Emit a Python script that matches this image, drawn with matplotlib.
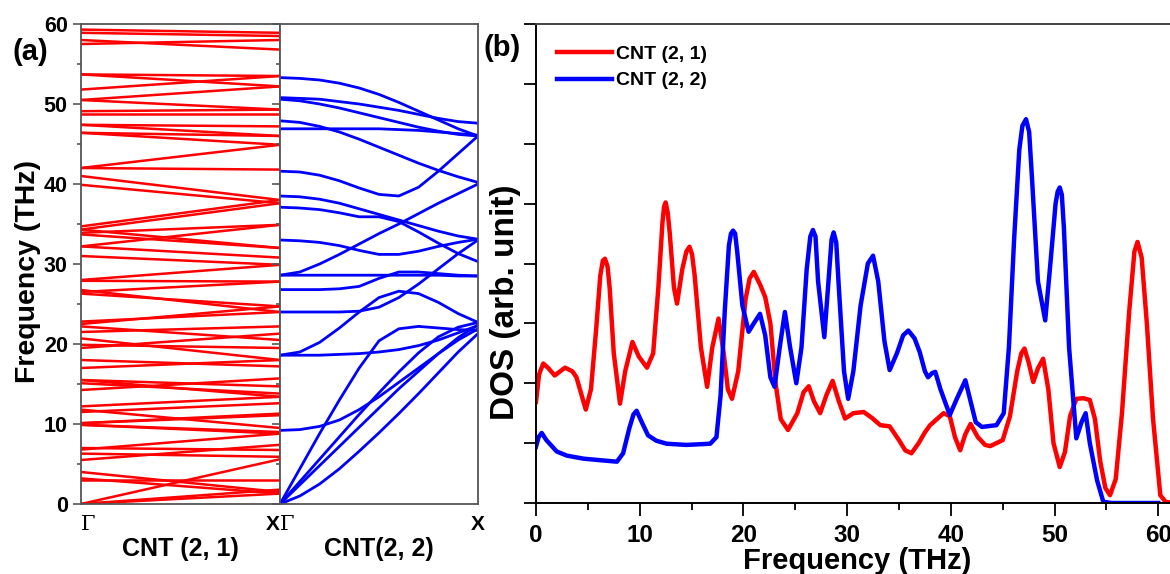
import matplotlib
matplotlib.use("Agg")
import matplotlib.pyplot as plt
from matplotlib.ticker import MultipleLocator

plt.rcParams["font.family"] = ["Liberation Sans", "DejaVu Sans"]
plt.rcParams["font.weight"] = "bold"

# ---- (a) phonon bands, CNT (2,1): frequency at Gamma and at X for each band
red_gamma = [0.0, 0.0, 0.0, 4.0, 3.0, 3.2, 5.5, 6.3, 7.0, 6.8,
             9.9, 9.9, 10.1, 10.1, 11.8, 12.2, 11.5,
             14.25, 15.1, 15.5, 15.5, 17.0, 18.0,
             19.5, 19.9, 20.7, 21.5, 22.2, 22.8, 22.5,
             26.3, 26.75, 26.5, 28.0, 27.9,
             31.0, 32.2, 32.2, 33.7, 34.3, 34.7, 34.3, 33.9,
             39.9, 41.0, 42.0, 42.0, 46.4, 46.4, 47.4, 47.4, 48.7, 49.1, 50.5, 50.5,
             51.8, 53.7, 53.7, 57.5, 58.0, 58.9, 59.3]
red_x = [1.3, 1.8, 5.6, 1.5, 3.0, 1.3, 7.4, 5.9, 6.75, 8.8,
         8.8, 9.0, 11.3, 11.1, 9.5, 13.4, 12.6,
         15.7, 13.8, 14.7, 13.4, 18.0, 17.2,
         21.3, 19.5, 18.0, 22.2, 20.5, 24.0, 24.7,
         24.7, 24.0, 27.8, 29.9, 27.8,
         29.9, 30.8, 34.9, 32.0, 32.0, 38.0, 37.6, 34.9,
         37.6, 38.0, 41.8, 44.9, 44.9, 46.0, 47.2, 46.0, 48.7, 49.3, 49.3, 52.2,
         53.5, 53.5, 52.2, 58.0, 56.8, 58.5, 58.9]

# ---- (a) phonon bands, CNT (2,2): frequency along Gamma -> X
blue_k = [0.0, 0.1, 0.2, 0.3, 0.4, 0.5, 0.6, 0.7, 0.8, 0.9, 1.0]
blue_bands = [
    [53.3, 53.2, 53.0, 52.6, 52.0, 51.2, 50.2, 49.1, 48.0, 46.9, 46.0],
    [50.8, 50.7, 50.6, 50.3, 50.0, 49.6, 49.2, 48.7, 48.2, 47.8, 47.6],
    [50.6, 50.4, 50.0, 49.5, 48.9, 48.3, 47.7, 47.1, 46.6, 46.2, 46.0],
    [47.9, 47.7, 47.2, 46.5, 45.6, 44.6, 43.6, 42.6, 41.7, 40.9, 40.2],
    [46.9, 46.9, 46.9, 46.9, 46.9, 46.9, 46.8, 46.7, 46.5, 46.3, 46.1],
    [41.6, 41.5, 41.1, 40.4, 39.5, 38.7, 38.5, 39.6, 41.6, 43.8, 46.0],
    [38.5, 38.4, 38.1, 37.6, 36.9, 36.2, 35.5, 34.8, 34.1, 33.5, 33.1],
    [37.1, 37.0, 36.8, 36.4, 35.9, 35.9, 35.3, 34.0, 32.6, 31.3, 30.3],
    [33.0, 32.9, 32.7, 32.3, 31.7, 31.2, 31.2, 31.6, 32.2, 32.7, 33.1],
    [28.6, 29.0, 30.0, 31.2, 32.5, 33.8, 35.0, 36.3, 37.6, 38.8, 40.0],
    [28.6, 28.6, 28.6, 28.6, 28.6, 28.6, 28.6, 28.6, 28.6, 28.5, 28.5],
    [26.8, 26.8, 26.8, 26.9, 27.2, 28.2, 29.0, 29.0, 28.8, 28.6, 28.5],
    [24.0, 24.0, 24.0, 24.0, 24.1, 24.6, 25.8, 27.5, 29.4, 31.3, 33.0],
    [18.6, 19.0, 20.2, 22.0, 24.0, 25.8, 26.6, 26.3, 25.2, 23.8, 22.7],
    [18.6, 18.6, 18.6, 18.7, 18.8, 19.0, 19.3, 19.8, 20.5, 21.4, 22.3],
    [9.2, 9.3, 9.7, 10.5, 11.8, 13.4, 15.2, 17.0, 18.8, 20.5, 21.9],
    [0.0, 4.4, 8.8, 13.0, 17.0, 20.4, 21.9, 22.2, 22.0, 21.8, 21.7],
    [0.0, 2.8, 5.6, 8.4, 11.2, 13.9, 16.5, 18.9, 20.9, 22.1, 22.7],
    [0.0, 2.4, 4.8, 7.2, 9.6, 12.0, 14.4, 16.6, 18.8, 20.8, 22.4],
    [0.0, 1.0, 2.5, 4.4, 6.6, 8.9, 11.3, 13.8, 16.4, 19.0, 21.3],
]

# ---- (b) phonon DOS
red_f = [0.0, 0.3, 0.7, 1.2, 1.8, 2.8, 3.5, 3.9, 4.4, 4.8, 5.3, 5.8, 6.2, 6.45, 6.65, 6.9,
         7.1, 7.5, 8.1, 8.6, 9.3, 9.9, 10.7, 11.3, 11.8, 12.2, 12.35, 12.5, 12.7, 12.9,
         13.3, 13.6, 14.1, 14.5, 14.8, 15.05, 15.3, 15.9, 16.5, 17.0, 17.6, 18.1, 18.5,
         18.9, 19.5, 20.2, 20.6, 21.0, 21.6, 22.1, 22.6, 23.1, 23.6, 24.3, 25.2, 25.8,
         26.3, 26.8, 27.4, 28.0, 28.6, 29.2, 29.8, 30.6, 31.6, 32.4, 33.2, 34.1, 35.0,
         35.6, 36.2, 36.9, 37.5, 38.0, 39.3, 39.9, 40.4, 40.9, 41.4, 41.9, 42.6, 43.3,
         43.8, 45.0, 45.7, 46.4, 46.8, 47.1, 47.5, 47.95, 48.4, 48.9, 49.4, 49.9, 50.5,
         51.0, 51.5, 52.1, 52.8, 53.4, 53.9, 54.4, 54.9, 55.35, 55.9, 56.5, 57.2, 57.7,
         58.0, 58.4, 58.9, 59.5, 60.2, 60.7, 61.5]
red_dos = [1.69, 2.15, 2.33, 2.25, 2.13, 2.26, 2.2, 2.1, 1.8, 1.56, 1.9, 2.9, 3.8, 4.05,
           4.08, 3.95, 3.6, 2.5, 1.66, 2.2, 2.69, 2.45, 2.26, 2.5, 3.6, 4.7, 4.95, 5.02,
           4.85, 4.5, 3.6, 3.33, 3.9, 4.2, 4.28, 4.15, 3.8, 2.6, 1.94, 2.6, 3.08, 2.5,
           1.9, 1.74, 2.2, 3.4, 3.75, 3.86, 3.65, 3.44, 3.0, 2.0, 1.4, 1.22, 1.5, 1.85,
           1.95, 1.7, 1.5, 1.8, 2.04, 1.7, 1.41, 1.5, 1.52, 1.42, 1.3, 1.28, 1.05, 0.88,
           0.83, 1.0, 1.18, 1.3, 1.5, 1.45, 1.1, 0.88, 1.15, 1.32, 1.1, 0.97, 0.95, 1.05,
           1.45, 2.2, 2.5, 2.58, 2.35, 2.02, 2.25, 2.41, 1.9, 1.0, 0.6, 0.85, 1.45, 1.74,
           1.75, 1.72, 1.4, 0.7, 0.25, 0.13, 0.4, 1.5, 3.2, 4.2, 4.36, 4.1, 3.0, 1.4,
           0.13, 0.02, 0.0]
blue_f = [0.0, 0.25, 0.55, 1.0, 2.0, 3.0, 4.6, 6.5, 7.8, 8.4, 9.0, 9.4, 9.7, 10.2, 10.8,
          11.6, 12.6, 14.5, 16.8, 17.4, 17.8, 18.2, 18.6, 18.8, 19.0, 19.2, 19.4, 19.9,
          20.5, 21.0, 21.6, 22.1, 22.6, 23.0, 23.5, 24.0, 24.5, 25.1, 25.6, 26.1, 26.45,
          26.7, 26.95, 27.2, 27.8, 28.2, 28.5, 28.7, 28.95, 29.2, 29.7, 30.1, 30.6, 31.3,
          32.0, 32.5, 33.0, 33.6, 34.1, 34.8, 35.4, 35.9, 36.5, 37.0, 37.5, 37.8, 38.2,
          38.5, 39.0, 39.9, 40.6, 41.4, 41.9, 42.4, 43.0, 44.4, 45.1, 45.6, 46.1, 46.6,
          46.9, 47.25, 47.55, 47.8, 48.4, 49.1, 49.6, 50.1, 50.3, 50.5, 50.7, 50.9, 51.4,
          52.1, 52.6, 53.0, 53.4, 54.1, 54.7, 55.5, 60.0]
blue_dos = [0.94, 1.1, 1.17, 1.05, 0.86, 0.79, 0.74, 0.71, 0.69, 0.83, 1.25, 1.48, 1.54,
            1.35, 1.13, 1.04, 0.99, 0.97, 0.99, 1.1, 1.8, 3.2, 4.3, 4.5, 4.55, 4.5, 4.2,
            3.3, 2.86, 3.0, 3.16, 2.8, 2.1, 1.94, 2.6, 3.19, 2.6, 2.0, 2.6, 3.9, 4.45,
            4.56, 4.45, 3.7, 2.77, 3.7, 4.4, 4.52, 4.35, 3.6, 2.2, 1.74, 2.2, 3.3, 4.0,
            4.13, 3.7, 2.7, 2.22, 2.5, 2.8, 2.88, 2.75, 2.52, 2.2, 2.1, 2.17, 2.19, 1.9,
            1.47, 1.75, 2.05, 1.7, 1.35, 1.27, 1.3, 1.5, 2.6, 4.4, 5.9, 6.3, 6.41, 6.2,
            5.5, 3.7, 3.05, 4.0, 5.0, 5.2, 5.27, 5.15, 4.6, 2.6, 1.08, 1.35, 1.5, 1.0,
            0.38, 0.02, 0.0, 0.0]

W, H = 1170, 574
fig = plt.figure(figsize=(W / 100, H / 100), dpi=100)

spine_gray = "#555555"
ax1 = fig.add_axes([81 / W, 1 - 504 / H, 199 / W, 480 / H])
ax2 = fig.add_axes([280 / W, 1 - 504 / H, 198 / W, 480 / H])
ax3 = fig.add_axes([536 / W, 1 - 503 / H, 643 / W, 479 / H])

for g, x in zip(red_gamma, red_x):
    ax1.plot([0, 1], [g, x], color="red", lw=1.8)
for band in blue_bands:
    ax2.plot(blue_k, band, color="blue", lw=2.0)

for ax in (ax1, ax2):
    ax.set_xlim(0, 1)
    ax.set_ylim(0, 60)
    for s in ax.spines.values():
        s.set_color(spine_gray)
        s.set_linewidth(1.3)
    ax.yaxis.set_major_locator(MultipleLocator(10))
    ax.yaxis.set_minor_locator(MultipleLocator(5))
    ax.tick_params(axis="y", which="both", direction="out", color=spine_gray,
                   labelsize=15.5, width=1.2)
    ax.tick_params(axis="y", which="major", length=6)
    ax.tick_params(axis="y", which="minor", length=3)
    ax.tick_params(axis="x", length=0, labelsize=15, pad=8)
    ax.set_xticks([0, 1])

ax1.set_xticklabels(["\u0393", "X"])
ax1.get_xticklabels()[0].set_fontfamily("DejaVu Serif")
ax1.get_xticklabels()[0].set_fontweight("normal")
ax1.get_xticklabels()[0].set_horizontalalignment("left")
ax1.get_xticklabels()[1].set_horizontalalignment("right")
ax2.set_xticklabels(["\u0393", "X"])
ax2.get_xticklabels()[0].set_fontfamily("DejaVu Serif")
ax2.get_xticklabels()[0].set_fontweight("normal")
ax2.get_xticklabels()[0].set_horizontalalignment("left")
ax2.tick_params(axis="y", labelleft=False)

ax1.set_xlabel("CNT (2, 1)", fontsize=18, fontweight="bold", labelpad=2)
ax2.set_xlabel("CNT(2, 2)", fontsize=18, fontweight="bold", labelpad=2)
ax1.set_ylabel("Frequency (THz)", fontsize=20.5, fontweight="bold", labelpad=2)
ax1.yaxis.set_label_coords(-0.2, 0.485)

# (b) DOS
ax3.plot(red_f, red_dos, color="red", lw=3.2, label="CNT (2, 1)",
         solid_joinstyle="round")
ax3.plot(blue_f, blue_dos, color="blue", lw=3.2, label="CNT (2, 2)",
         solid_joinstyle="round")
ax3.set_xlim(0, 62)
ax3.set_ylim(0, 8)
ax3.xaxis.set_major_locator(MultipleLocator(10))
ax3.xaxis.set_minor_locator(MultipleLocator(5))
ax3.yaxis.set_major_locator(MultipleLocator(1))
ax3.tick_params(axis="y", which="both", direction="out", length=9, width=1.3,
                labelleft=False)
ax3.tick_params(axis="x", which="major", direction="out", length=9, width=1.3,
                labelsize=17.5, pad=6)
ax3.tick_params(axis="x", which="minor", direction="out", length=5, width=1.3)
for name, s in ax3.spines.items():
    s.set_linewidth(1.4)
ax3.spines["top"].set_color("#444444")
ax3.set_xlabel("Frequency (THz)", fontsize=21, fontweight="bold", labelpad=0)
ax3.set_ylabel("DOS (arb. unit)", fontsize=24, fontweight="bold")
ax3.yaxis.set_label_coords(-0.024, 0.42)
ax3.legend(loc="upper left", frameon=False, handlelength=2.8,
           handletextpad=0.2, labelspacing=0.45, borderaxespad=0.7,
           prop={"weight": "bold", "size": 14})

fig.text(12 / W, 1 - 52 / H, "(a)", fontsize=21, fontweight="bold", va="center")
fig.text(484 / W, 1 - 48 / H, "(b)", fontsize=21, fontweight="bold", va="center")

fig.savefig("out.png", dpi=100, facecolor="white")
